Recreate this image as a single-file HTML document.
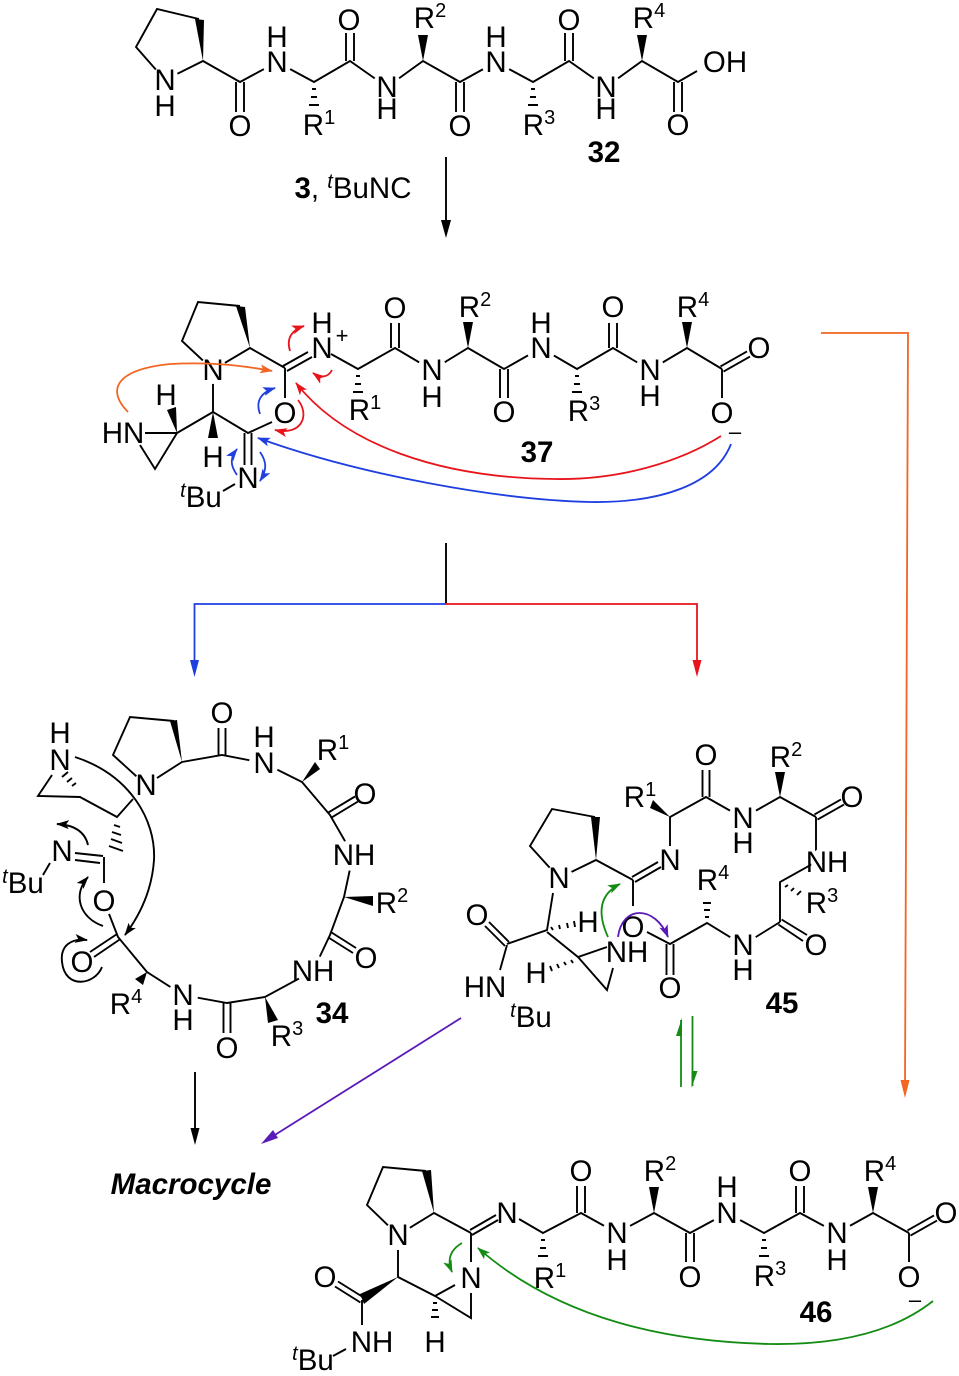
<!DOCTYPE html>
<html><head><meta charset="utf-8"><style>
html,body{margin:0;padding:0;background:#fff}
svg{display:block}
text{font-family:"Liberation Sans",sans-serif;font-size:29.500px;fill:#000;text-anchor:middle}
.b{font-weight:bold}
.s{font-size:20px}
.m{font-size:22px}
.i{font-style:italic}
.k{fill:none;stroke:#000;stroke-width:1.900}
.c{fill:#fff;stroke:none}
.a{fill:none;stroke-width:1.800}
</style></head><body>
<svg width="959" height="1376" viewBox="0 0 959 1376" xmlns="http://www.w3.org/2000/svg">
<defs>
<marker id="mk" markerUnits="userSpaceOnUse" markerWidth="14" markerHeight="10" refX="12" refY="5" orient="auto"><path d="M0,.5L13,5L0,9.5L3,5Z" fill="#000"/></marker>
<marker id="mr" markerUnits="userSpaceOnUse" markerWidth="14" markerHeight="10" refX="12" refY="5" orient="auto"><path d="M0,.5L13,5L0,9.5L3,5Z" fill="#e8141c"/></marker>
<marker id="mb" markerUnits="userSpaceOnUse" markerWidth="14" markerHeight="10" refX="12" refY="5" orient="auto"><path d="M0,.5L13,5L0,9.5L3,5Z" fill="#1f3fe0"/></marker>
<marker id="mo" markerUnits="userSpaceOnUse" markerWidth="14" markerHeight="10" refX="12" refY="5" orient="auto"><path d="M0,.5L13,5L0,9.5L3,5Z" fill="#f26522"/></marker>
<marker id="mg" markerUnits="userSpaceOnUse" markerWidth="14" markerHeight="10" refX="12" refY="5" orient="auto"><path d="M0,.5L13,5L0,9.5L3,5Z" fill="#148c14"/></marker>
<marker id="mp" markerUnits="userSpaceOnUse" markerWidth="14" markerHeight="10" refX="12" refY="5" orient="auto"><path d="M0,.5L13,5L0,9.5L3,5Z" fill="#5a1ab8"/></marker>
</defs>

<!-- 32 -->
<path class="k" d="M199,19L157,9L136,47L165,80L203,61L240,82L277,62L314,82L350,61L387,87L423,61L460,82L496,62L533,82L569,61L606,87L642,61L678,82L697,71M236,82V112M244,82V112M346,61V33M354,61V33M456,82V112M464,82V112M565,61V33M573,61V33M674,82V112M682,82V112"/>
<g class="c"><circle cx="165" cy="80" r="14"/><circle cx="277" cy="62" r="15"/><circle cx="387" cy="87" r="15"/><circle cx="496" cy="62" r="15"/><circle cx="606" cy="87" r="15"/></g>
<polygon points="203,61 195,19 204,20"/><polygon points="423,61 418,35 428,35"/><polygon points="642,61 637,35 647,35"/>
<path class="k" d="M312,89h4M311,97h6M309,105h10M531,89h4M530,97h6M528,105h10"/>
<text x="165" y="90">N</text><text x="165" y="116">H</text><text x="240" y="136">O</text><text x="277" y="72">N</text><text x="277" y="47">H</text><text x="349" y="30">O</text><text x="387" y="97">N</text><text x="387" y="119">H</text><text x="460" y="136">O</text><text x="496" y="72">N</text><text x="496" y="47">H</text><text x="569" y="30">O</text><text x="606" y="97">N</text><text x="606" y="119">H</text><text x="678" y="135">O</text><text x="725" y="72">OH</text>
<text x="319" y="135">R<tspan class="s" dy="-11">1</tspan></text><text x="430" y="28">R<tspan class="s" dy="-11">2</tspan></text><text x="539" y="135">R<tspan class="s" dy="-11">3</tspan></text><text x="649" y="28">R<tspan class="s" dy="-11">4</tspan></text>
<text class="b" x="604" y="162">32</text>
<text x="353" y="198"><tspan class="b">3</tspan>, <tspan class="s i" dy="-10">t</tspan><tspan dy="10">BuNC</tspan></text>
<path class="k" d="M446,157V225"/><polygon points="446,238 441,220 451,220"/>

<!-- 37 -->
<path class="k" d="M240,306L198,302L182,341L213,370L250,348L285,368M283,366L308,352M287,371L312,357M331,354L358,369L395,348L432,370L468,348L504,369L541,348L577,369L613,348L650,370L687,348L722,369M720.500,366.400L747,351.400M723.500,371.600L750,356.600M722,369V398M391,348V323M399,348V323M500,369V398M508,369V398M609,348V323M617,348V323M285,368V398M213,370V412L248,433L272,422M213,412L177,433L145,433M177,433L155,469L140,445M244.500,433V465M251.500,433V465M223,491L235,484"/>
<g class="c"><circle cx="213" cy="370" r="14"/><circle cx="432" cy="370" r="15"/><circle cx="541" cy="348" r="15"/><circle cx="650" cy="370" r="15"/></g>
<polygon points="250,348 236,306 245,307"/><polygon points="468,348 463,322 473,322"/><polygon points="687,348 682,322 692,322"/><polygon points="213,412 208,438 218,438"/><polygon points="177,433 167,410 176,407"/>
<path class="k" d="M356,376h4M355,384h6M353,392h10M575,376h4M574,384h6M572,392h10"/>
<text x="213" y="380">N</text><text x="322" y="358">N</text><text x="322" y="333">H</text><text class="m" x="342" y="343">+</text><text x="395" y="318">O</text><text x="432" y="380">N</text><text x="432" y="407">H</text><text x="504" y="422">O</text><text x="541" y="358">N</text><text x="541" y="333">H</text><text x="613" y="317">O</text><text x="650" y="380">N</text><text x="650" y="406">H</text><text x="759" y="358">O</text><text x="722" y="423">O</text><text class="m" x="735" y="439">–</text>
<text x="285" y="423">O</text><text x="166" y="405">H</text><text x="213" y="467">H</text><text x="123" y="443">HN</text><text x="248" y="488">N</text><text x="201" y="507"><tspan class="s i" dy="-10">t</tspan><tspan dy="10">Bu</tspan></text>
<text x="365" y="420">R<tspan class="s" dy="-11">1</tspan></text><text x="475" y="317">R<tspan class="s" dy="-11">2</tspan></text><text x="584" y="421">R<tspan class="s" dy="-11">3</tspan></text><text x="693" y="317">R<tspan class="s" dy="-11">4</tspan></text>
<text class="b" x="537" y="462">37</text>
<path class="a" stroke="#f26522" stroke-width="2" marker-end="url(#mo)" d="M128,412C108,392 112,370 170,364C210,362 240,365 272,371"/>
<path class="a" stroke="#e8141c" marker-end="url(#mr)" d="M290,351C286,338 292,330 304,326"/>
<path class="a" stroke="#e8141c" marker-end="url(#mr)" d="M332,370C328,378 320,378 313,373"/>
<path class="a" stroke="#e8141c" stroke-width="2" marker-end="url(#mr)" d="M298,400C310,415 302,436 275,430"/>
<path class="a" stroke="#e8141c" stroke-width="2" marker-end="url(#mr)" d="M721,436C680,462 620,480 555,479C440,478 345,445 296,383"/>
<path class="a" stroke="#1f3fe0" stroke-width="2" marker-end="url(#mb)" d="M731,444C715,485 660,503 590,502C500,500 360,475 258,438"/>
<path class="a" stroke="#1f3fe0" marker-end="url(#mb)" d="M260,414C255,400 262,392 275,388"/>
<path class="a" stroke="#1f3fe0" marker-end="url(#mb)" d="M237,475C230,465 230,458 237,449"/>
<path class="a" stroke="#1f3fe0" marker-end="url(#mb)" d="M260,452C267,462 267,470 260,481"/>

<!-- branch -->
<path class="k" d="M446,543V604"/>
<path class="a" stroke="#1f3fe0" d="M446,604H194.500V665"/><polygon points="194.500,677 190,660 199,660" fill="#1f3fe0"/>
<path class="a" stroke="#e8141c" d="M446,604H697V665"/><polygon points="697,677 692.500,660 701.500,660" fill="#e8141c"/>
<path class="a" stroke="#f26522" d="M821,333H908L905,1085"/><polygon points="905,1098 900.500,1080 909.500,1080" fill="#f26522"/>

<!-- 34 -->
<path class="k" d="M174,721L130,717L113,755L146,785L182,762L222,755L264,763L302,782L330,815L353,855L344,897L330,935L313,971L265,997L227,1003L183,995L147,972L118,937L104,901M104,883V857M75,853L103,856M75,860L100,863M116.300,934.500L90,952M119.700,939.500L94,957M218.500,755V728M225.500,755V728M328.500,812.400L355,796.500M331.500,817.600L358,801.500M331.600,932.500L356,948M328.400,937.500L353,953M223.500,1003V1033M230.500,1003V1033M133,799L117,817L80,797L38,796L52,775M50,863L43,875"/>
<g class="c"><circle cx="146" cy="785" r="13"/><circle cx="264" cy="763" r="15"/><circle cx="353" cy="855" r="16"/><circle cx="313" cy="971" r="16"/><circle cx="183" cy="995" r="15"/><circle cx="104" cy="901" r="14"/></g>
<polygon points="182,762 170,721 177,720"/><polygon points="302,782 315,762 320,769"/><polygon points="344,897 373,896 373,906"/><polygon points="265,997 268,1023 278,1020"/><polygon points="147,972 135,979 143,985"/>
<path class="k" d="M114,825l6,2M112,832l9,3M111,839l11,4M109,846l14,5M76,783l-4,3M72,778l-5,4M68,772l-6,5"/>
<text x="146" y="795">N</text><text x="60" y="770">N</text><text x="60" y="743">H</text><text x="222" y="723">O</text><text x="264" y="773">N</text><text x="264" y="747">H</text><text x="365" y="804">O</text><text x="354" y="865">NH</text><text x="366" y="968">O</text><text x="313" y="981">NH</text><text x="227" y="1058">O</text><text x="183" y="1005">N</text><text x="183" y="1030">H</text><text x="82" y="972">O</text><text x="104" y="911">O</text><text x="62" y="861">N</text><text x="23" y="893"><tspan class="s i" dy="-10">t</tspan><tspan dy="10">Bu</tspan></text>
<text x="333" y="760">R<tspan class="s" dy="-11">1</tspan></text><text x="392" y="913">R<tspan class="s" dy="-11">2</tspan></text><text x="287" y="1046">R<tspan class="s" dy="-11">3</tspan></text><text x="126" y="1014">R<tspan class="s" dy="-11">4</tspan></text>
<text class="b" x="332" y="1023">34</text>
<path class="k" marker-end="url(#mk)" d="M75,757C130,775 156,820 154,860C152,890 140,915 125,935"/>
<path class="k" marker-end="url(#mk)" d="M88,845C85,832 75,825 57,824"/>
<path class="k" marker-end="url(#mk)" d="M103,926C80,918 72,895 88,877"/>
<path class="k" marker-end="url(#mk)" d="M102,967C95,985 65,990 62,962C60,945 72,938 87,940"/>

<!-- 45 -->
<path class="k" d="M595,817L552,809L530,846L559,878L596,860L633,880M632,877L658,862M635,882L661,867M633,880V906M670,846V817L706,797L743,818L780,797L816,817M702.500,797V770M709.500,797V770M814.500,814.400L841,799.400M817.500,819.600L844,804.600M816,817V862L780,882V922M781.600,919.500L807,935M778.400,924.500L803,941M780,922L743,945L707,923L670,944L647,932M666.500,944V975M673.500,944V975M553,893L547,930L507,944M509,942L489,922M505,946L485,926M507,945L500,970M547,932L578,957L607,947M578,957L607,990L613,968"/>
<g class="c"><circle cx="559" cy="878" r="14"/><circle cx="743" cy="818" r="15"/><circle cx="827" cy="862" r="16"/><circle cx="743" cy="945" r="15"/></g>
<polygon points="596,860 591,817 600,817"/><polygon points="670,817 650,808 653,800"/><polygon points="780,797 775,772 785,772"/>
<path class="k" d="M705,917h4M704,910h6M703,903h8M551,927l2,3M559,925l1,4M567,923l1,5M574,921l1,6M785,887l3,-2M791,891l3,-3M797,895l4,-4M571,960l2,3M564,962l2,3M557,964l2,4M550,966l2,5"/>
<text x="559" y="888">N</text><text x="670" y="870">N</text><text x="706" y="765">O</text><text x="743" y="828">N</text><text x="743" y="853">H</text><text x="852" y="807">O</text><text x="827" y="872">NH</text><text x="816" y="955">O</text><text x="743" y="955">N</text><text x="743" y="980">H</text><text x="670" y="998">O</text><text x="633" y="937">O</text><text x="588" y="932">H</text><text x="536" y="983">H</text><text x="627" y="962">NH</text><text x="477" y="925">O</text><text x="485" y="997">HN</text><text x="531" y="1027"><tspan class="s i" dy="-10">t</tspan><tspan dy="10">Bu</tspan></text>
<text x="640" y="807">R<tspan class="s" dy="-11">1</tspan></text><text x="786" y="767">R<tspan class="s" dy="-11">2</tspan></text><text x="822" y="913">R<tspan class="s" dy="-11">3</tspan></text><text x="713" y="890">R<tspan class="s" dy="-11">4</tspan></text>
<text class="b" x="782" y="1013">45</text>
<path class="a" stroke="#148c14" marker-end="url(#mg)" d="M608,937C598,915 598,895 620,884"/>
<path class="a" stroke="#5a1ab8" marker-end="url(#mp)" d="M618,937C622,905 655,905 668,937"/>

<!-- arrows to Macrocycle -->
<path class="a" stroke="#5a1ab8" d="M461,1018L270,1138"/><polygon points="261,1144 273,1130 278,1138" fill="#5a1ab8"/>
<path class="k" d="M195,1072V1132"/><polygon points="195,1145 190.500,1128 199.500,1128"/>
<text class="b i" x="191" y="1194" style="font-size:29.500px">Macrocycle</text>
<path class="a" stroke="#148c14" stroke-width="2" d="M681,1020V1087M692.500,1016V1086"/>
<polygon points="682,1018 682,1036 676,1036" fill="#148c14"/><polygon points="691.500,1088 691.500,1071 697.500,1071" fill="#148c14"/>

<!-- 46 -->
<path class="k" d="M426,1171L383,1167L367,1205L398,1235L434,1213L471,1233M470,1230L496,1215M472,1235L498,1220M519,1219L543,1233L581,1213L617,1233L654,1213L690,1233L727,1213L764,1233L800,1213L837,1233L873,1213L909,1233M907.500,1230.400L934,1215.400M910.500,1235.600L937,1220.600M909,1233V1262M577,1213V1186M585,1213V1186M686,1233V1262M694,1233V1262M796,1213V1186M804,1213V1186M471,1233V1262M398,1250V1277L435,1296L455,1285M435,1296L471,1318V1293M363.600,1297.500L338,1281.500M360.400,1302.500L335,1286.500M362,1300V1325M333,1356L346,1349"/>
<g class="c"><circle cx="398" cy="1235" r="14"/><circle cx="617" cy="1233" r="15"/><circle cx="727" cy="1213" r="15"/><circle cx="837" cy="1233" r="15"/></g>
<polygon points="434,1213 422,1171 431,1170"/><polygon points="654,1213 649,1187 659,1187"/><polygon points="873,1213 868,1187 878,1187"/><polygon points="398,1277 360,1294 364,1304"/>
<path class="k" d="M541,1240h4M540,1248h6M538,1256h10M762,1240h4M761,1248h6M759,1256h10M433,1303h4M432,1310h6M431,1317h8"/>
<text x="398" y="1245">N</text><text x="507" y="1223">N</text><text x="471" y="1288">N</text><text x="581" y="1181">O</text><text x="617" y="1243">N</text><text x="617" y="1270">H</text><text x="690" y="1287">O</text><text x="727" y="1223">N</text><text x="727" y="1197">H</text><text x="800" y="1181">O</text><text x="837" y="1243">N</text><text x="837" y="1270">H</text><text x="946" y="1223">O</text><text x="909" y="1287">O</text><text class="m" x="915" y="1307">–</text><text x="325" y="1287">O</text><text x="372" y="1352">NH</text><text x="435" y="1352">H</text><text x="313" y="1370"><tspan class="s i" dy="-10">t</tspan><tspan dy="10">Bu</tspan></text>
<text x="550" y="1288">R<tspan class="s" dy="-11">1</tspan></text><text x="660" y="1181">R<tspan class="s" dy="-11">2</tspan></text><text x="770" y="1286">R<tspan class="s" dy="-11">3</tspan></text><text x="880" y="1181">R<tspan class="s" dy="-11">4</tspan></text>
<text class="b" x="816" y="1322">46</text>
<path class="a" stroke="#148c14" marker-end="url(#mg)" d="M462,1243C450,1250 447,1260 452,1272"/>
<path class="a" stroke="#148c14" marker-end="url(#mg)" d="M933,1301C890,1335 830,1345 770,1344C670,1342 560,1320 478,1248"/>
</svg>
</body></html>
